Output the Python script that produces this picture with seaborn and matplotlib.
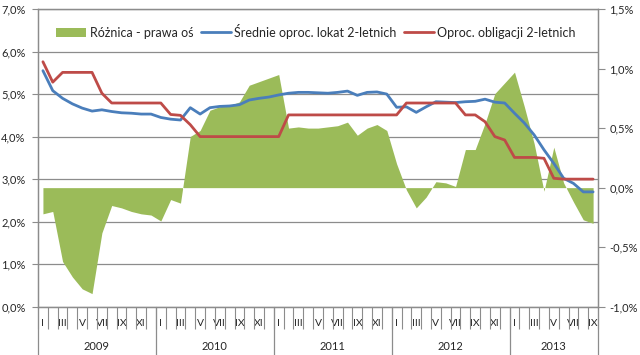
import numpy as np
import pandas as pd
import matplotlib
matplotlib.use("Agg")
import matplotlib.pyplot as plt
import matplotlib.transforms as mtransforms
from matplotlib.patches import Patch
from matplotlib.lines import Line2D
import seaborn as sns

# ---- data ----
years = [2009, 2010, 2011, 2012, 2013]
months_per_year = [12, 12, 12, 12, 9]
roman = ["I", "II", "III", "IV", "V", "VI", "VII", "VIII", "IX", "X", "XI", "XII"]

lokaty = [5.55, 5.08, 4.90, 4.77, 4.67, 4.60, 4.63, 4.59, 4.56, 4.55, 4.53, 4.53,
          4.45, 4.41, 4.39, 4.68, 4.53, 4.68, 4.71, 4.72, 4.75, 4.86, 4.90, 4.93,
          4.98, 5.02, 5.04, 5.04, 5.03, 5.02, 5.04, 5.07, 4.97, 5.04, 5.05, 5.00,
          4.69, 4.70, 4.57, 4.70, 4.82, 4.81, 4.80, 4.82, 4.83, 4.88, 4.81, 4.79,
          4.55, 4.32, 4.04, 3.69, 3.37, 3.02, 2.90, 2.70, 2.70]

obligacje = [5.76, 5.28, 5.51, 5.51, 5.51, 5.51, 5.02, 4.79, 4.79, 4.79, 4.79, 4.79,
             4.79, 4.52, 4.50, 4.28, 4.00, 4.00, 4.00, 4.00, 4.00, 4.00, 4.00, 4.00,
             4.00, 4.51, 4.51, 4.51, 4.51, 4.51, 4.51, 4.51, 4.51, 4.51, 4.51, 4.51,
             4.51, 4.79, 4.79, 4.79, 4.79, 4.79, 4.79, 4.51, 4.51, 4.35, 4.00, 3.92,
             3.51, 3.51, 3.51, 3.49, 3.02, 3.00, 3.00, 3.00, 3.00]

roznica = [-0.22, -0.20, -0.62, -0.75, -0.85, -0.89, -0.38, -0.15, -0.17, -0.20, -0.22, -0.23,
           -0.28, -0.10, -0.13, 0.43, 0.48, 0.65, 0.68, 0.69, 0.72, 0.86, 0.89, 0.92,
           0.95, 0.50, 0.51, 0.50, 0.50, 0.51, 0.52, 0.55, 0.44, 0.50, 0.53, 0.48,
           0.20, -0.02, -0.17, -0.08, 0.05, 0.04, 0.01, 0.32, 0.32, 0.54, 0.79, 0.88,
           0.97, 0.68, 0.37, -0.03, 0.34, 0.04, -0.12, -0.27, -0.30]

left_ticks = [0, 1, 2, 3, 4, 5, 6, 7]
right_ticks = [-1.0, -0.5, 0.0, 0.5, 1.0, 1.5]

labels = ["Różnica - prawa oś", "Średnie oproc. lokat 2-letnich", "Oproc. obligacji 2-letnich"]

# ---- style ----
GREEN = "#9BBB59"
BLUE = "#4A7EBB"
RED = "#BE4B48"
GRAY = "#8C8C8C"
TXT = "#262626"

sns.set_theme(style="white")
plt.rcParams["font.family"] = ["Lato", "DejaVu Sans"]

N = len(lokaty)
month_names = [roman[m] for n in months_per_year for m in range(n)]
df = pd.DataFrame({"idx": np.arange(N), "lokaty": lokaty,
                   "obligacje": obligacje, "roznica": roznica})

fig = plt.figure(figsize=(6.4, 3.55), dpi=100)
ax = fig.add_axes([0.0594, 0.136, 0.875, 0.8386])
ax2 = ax.twinx()
ax3 = fig.add_axes(ax.get_position(), sharex=ax, sharey=ax)
ax3.patch.set_visible(False)

# area on the right axis
ax2.fill_between(df["idx"], 0, df["roznica"], color=GREEN, lw=0)

# lines on top
sns.lineplot(data=df, x="idx", y="lokaty", ax=ax3, color=BLUE, lw=2.0)
sns.lineplot(data=df, x="idx", y="obligacje", ax=ax3, color=RED, lw=2.0)
ax3.axis("off")

ax.set_xlim(-0.5, N - 0.5)
ax.set_ylim(0, 7)
ax2.set_ylim(-1.0, 1.5)

def fmt(v):
    return f"{v:.1f}%".replace(".", ",")

ax.set_yticks(left_ticks)
ax.set_yticklabels([fmt(v) for v in left_ticks])
ax.yaxis.grid(True, color=GRAY, lw=0.9)
ax.tick_params(axis="y", direction="out", length=4, width=0.8, color=GRAY,
               pad=5, labelsize=8, labelcolor=TXT, left=True)
ax2.set_yticks(right_ticks)
ax2.set_yticklabels([fmt(v) for v in right_ticks])
ax2.tick_params(axis="y", direction="out", length=5, width=0.8, color=GRAY,
                pad=3, labelsize=8, labelcolor=TXT, right=True)

# x axis: month labels & category separators
major_pos = [i for i in range(N) if month_names[i] in ("I", "III", "V", "VII", "IX", "XI")]
ax.set_xticks(major_pos)
ax.set_xticklabels([month_names[i] for i in major_pos])
ax.set_xticks(np.arange(-0.5, N, 1.0), minor=True)
ax.tick_params(axis="x", which="major", length=0, pad=9, labelsize=7.5, labelcolor=TXT, bottom=True)
ax.tick_params(axis="x", which="minor", direction="out", length=16, width=0.8,
               color=GRAY, bottom=True)
ax.set_xlabel("")
ax.set_ylabel("")
ax2.set_ylabel("")

for a in (ax, ax2):
    for s in a.spines.values():
        s.set_color(GRAY)
        s.set_linewidth(0.9)

# year labels and separators
trans = mtransforms.blended_transform_factory(ax.transData, ax.transAxes)
bounds = np.concatenate([[0], np.cumsum(months_per_year)])
for b in bounds:
    ax.plot([b - 0.5, b - 0.5], [0, -0.163], transform=trans, color=GRAY,
            lw=0.9, clip_on=False)
for y, s, n in zip(years, bounds[:-1], months_per_year):
    ax.text(s + (n - 1) / 2, -0.134, str(y), transform=trans, ha="center",
            va="center", fontsize=8, color=TXT)

handles = [Patch(facecolor=GREEN, edgecolor="none"),
           Line2D([], [], color=BLUE, lw=2.0),
           Line2D([], [], color=RED, lw=2.0)]
ax3.legend(handles, labels, loc="center", bbox_to_anchor=(0.496, 0.926), ncol=3,
           frameon=False, fontsize=9.0, handlelength=2.4, handleheight=0.7,
           handletextpad=0.25, columnspacing=0.6, labelcolor=TXT)

fig.savefig("out.png", dpi=100)
